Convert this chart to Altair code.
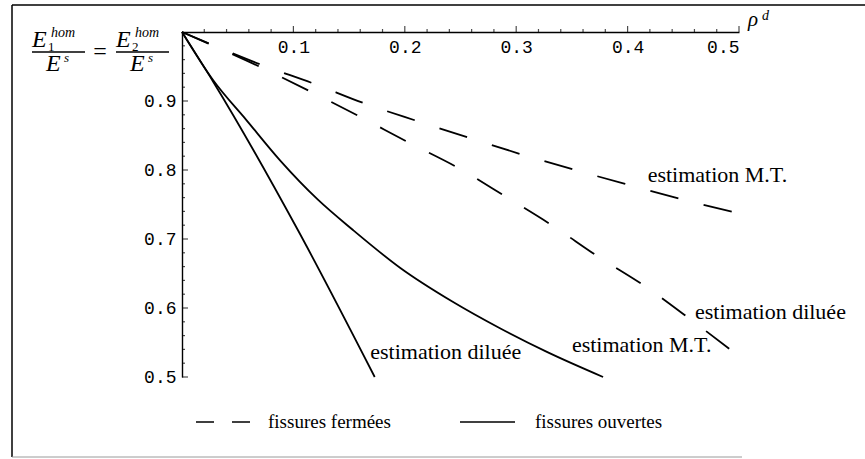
import altair as alt
import pandas as pd

# Module de Young homogénéisé E^hom / E^s en fonction de la densité de fissures rho^d

# fissures fermées, estimation Mori-Tanaka
rho_ferm_mt = [0.0, 0.072, 0.1185, 0.163, 0.211, 0.259, 0.306, 0.355, 0.402, 0.450, 0.5]
E_ferm_mt = [1.0, 0.952, 0.925, 0.897, 0.871, 0.846, 0.822, 0.799, 0.778, 0.757, 0.737]

# fissures fermées, estimation diluée
rho_ferm_dil = [0.0, 0.072, 0.115, 0.159, 0.202, 0.248, 0.291, 0.332, 0.373, 0.417, 0.456, 0.496]
E_ferm_dil = [1.0, 0.948, 0.914, 0.878, 0.841, 0.803, 0.761, 0.720, 0.675, 0.630, 0.584, 0.535]

# fissures ouvertes, estimation Mori-Tanaka
rho_ouv_mt = [0.0, 0.028, 0.058, 0.088, 0.122, 0.1535, 0.196, 0.243, 0.285, 0.328, 0.378]
E_ouv_mt = [1.0, 0.930, 0.872, 0.814, 0.757, 0.713, 0.658, 0.609, 0.571, 0.536, 0.500]

# fissures ouvertes, estimation diluée
rho_ouv_dil = [0.0, 0.028, 0.104, 0.173]
E_ouv_dil = [1.0, 0.928, 0.713, 0.500]

# graduations des axes
x_major = [0.1, 0.2, 0.3, 0.4, 0.5]
x_minor = [0.02, 0.04, 0.06, 0.08, 0.12, 0.14, 0.16, 0.18, 0.22, 0.24, 0.26, 0.28,
           0.32, 0.34, 0.36, 0.38, 0.42, 0.44, 0.46, 0.48]
y_major = [0.5, 0.6, 0.7, 0.8, 0.9]
y_minor = [0.52, 0.54, 0.56, 0.58, 0.62, 0.64, 0.66, 0.68, 0.72, 0.74, 0.76, 0.78,
           0.82, 0.84, 0.86, 0.88, 0.92, 0.94, 0.96, 0.98]

# étiquettes des courbes (ancrées dans le repère des données)
label_text = ["estimation M.T.", "estimation diluée", "estimation M.T.", "estimation diluée"]
label_rho = [0.418, 0.4605, 0.350, 0.169]
label_E = [0.793, 0.594, 0.546, 0.536]


def table(name, rho, E):
    return pd.DataFrame({"rho": rho, "E": E, "serie": name})


fermees = pd.concat([table("ferm_mt", rho_ferm_mt, E_ferm_mt),
                     table("ferm_dil", rho_ferm_dil, E_ferm_dil)])
ouvertes = pd.concat([table("ouv_mt", rho_ouv_mt, E_ouv_mt),
                      table("ouv_dil", rho_ouv_dil, E_ouv_dil)])
labels = pd.DataFrame({"rho": label_rho, "E": label_E, "txt": label_text})

W, H = 557, 345
SERIF = "Liberation Serif"
MONO = "Liberation Mono"

x_enc = alt.X(
    "rho:Q",
    scale=alt.Scale(domain=[0, 0.5], nice=False, zero=True),
    axis=alt.Axis(orient="bottom", offset=-H, values=x_major, format=".1f", title=None,
                  labelFont=MONO, labelFontSize=18, labelColor="black", labelPadding=6,
                  ticks=False, domainColor="black", domainWidth=1.4, grid=False),
)
y_enc = alt.Y(
    "E:Q",
    scale=alt.Scale(domain=[0.5, 1.0], nice=False, zero=False),
    axis=alt.Axis(values=y_major, format=".1f", title=None,
                  labelFont=MONO, labelFontSize=18, labelColor="black", labelPadding=6,
                  ticks=False, domainColor="black", domainWidth=1.4, grid=False),
)

dashed = alt.Chart(fermees).mark_line(
    color="black", strokeWidth=1.8, strokeDash=[29, 26], interpolate="monotone"
).encode(x=x_enc, y=y_enc, detail="serie:N")

solid = alt.Chart(ouvertes).mark_line(
    color="black", strokeWidth=1.8, interpolate="monotone"
).encode(x=x_enc, y=y_enc, detail="serie:N")

curve_labels = alt.Chart(labels).mark_text(
    align="left", baseline="middle", font=SERIF, fontSize=22, color="black"
).encode(x=x_enc, y=y_enc, text="txt:N")


# graduations : vers le haut sur l'axe des rho, vers la droite sur l'axe des E
def x_ticks(vals, size):
    return alt.Chart(pd.DataFrame({"rho": vals})).mark_tick(
        orient="vertical", size=size, thickness=1.2, color="black"
    ).encode(x=x_enc, y=alt.value(-size / 2))


def y_ticks(vals, size):
    return alt.Chart(pd.DataFrame({"E": vals})).mark_tick(
        orient="horizontal", size=size, thickness=1.2, color="black"
    ).encode(y=y_enc, x=alt.value(size / 2))


ticks = [x_ticks(x_major, 6), x_ticks(x_minor, 3), y_ticks(y_major, 6), y_ticks(y_minor, 3)]

one = alt.Data(values=[{}])


def txt(s, x, y, size, style="normal", align="left", baseline="alphabetic", font=SERIF):
    return alt.Chart(one).mark_text(
        text=s, align=align, baseline=baseline, fontSize=size, font=font,
        fontStyle=style, color="black"
    ).encode(x=alt.value(x), y=alt.value(y))


def rule(x, x2, y, y2, width=1.4, color="black", dash=None):
    kw = {"strokeWidth": width, "color": color}
    if dash is not None:
        kw["strokeDash"] = dash
    return alt.Chart(one).mark_rule(**kw).encode(
        x=alt.value(x), x2=alt.value(x2), y=alt.value(y), y2=alt.value(y2)
    )


def fraction(x0, sub):
    # E_sub^hom / E^s
    return [
        txt("E", x0, 15, 24, "italic"),
        txt("hom", x0 + 19, 5, 14, "italic"),
        txt(sub, x0 + 16, 19, 13),
        rule(x0, x0 + 53, 20, 20, width=1.3),
        txt("E", x0 + 14, 39, 24, "italic"),
        txt("s", x0 + 32, 30, 13, "italic"),
    ]


title_parts = fraction(-150, "1") + [txt("=", -82, 20, 24, baseline="middle", align="center")] \
    + fraction(-66, "2")

rho_label = [
    txt("ρ", 566, -6, 21, "italic"),
    txt("d", 580, -12, 14, "italic"),
]

# légende
legend = [
    rule(14, 71, 390, 390, width=1.6, dash=[18, 18]),
    txt("fissures fermées", 86, 390, 19, baseline="middle"),
    rule(278, 333, 390, 390, width=1.6),
    txt("fissures ouvertes", 353, 390, 19, baseline="middle"),
]

# cadre de la figure
frame = [
    rule(-170, -170, -27, 425, width=1.5),
    rule(-170, 700, -27, -27, width=1.5),
    rule(-170, 560, 425, 425, width=1.0, color="#9a9a9a"),
]

chart = alt.layer(
    dashed, solid, curve_labels, *ticks, *title_parts, *rho_label, *legend, *frame
).properties(
    width=W,
    height=H,
    padding={"left": 182, "top": 32, "right": 126, "bottom": 82},
    autosize=alt.AutoSizeParams(type="none"),
    background="white",
).configure_view(stroke=None)

chart.save("out.html", embed_options={"renderer": "svg", "actions": False})
